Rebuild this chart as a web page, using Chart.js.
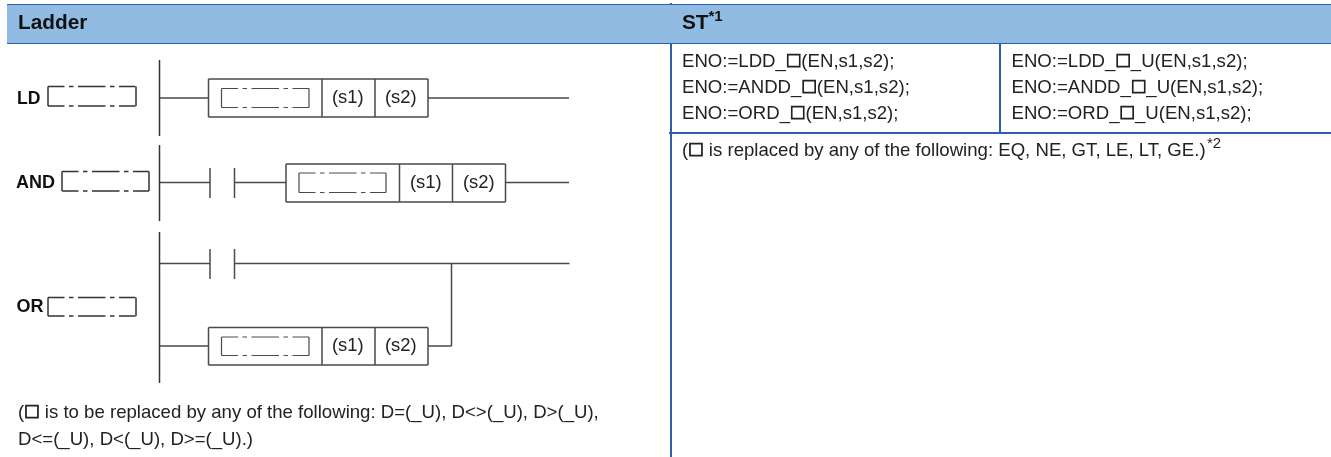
<!DOCTYPE html>
<html>
<head>
<meta charset="utf-8">
<title>Ladder / ST</title>
<script src="https://cdn.jsdelivr.net/npm/chart.js@4/dist/chart.umd.min.js"></script>
<style>
    html, body { margin: 0; padding: 0; background: #fff; overflow: hidden; }
    canvas { display: block; }
</style>
</head>
<body>
<canvas id="diagram" width="1331" height="457"></canvas>
<script>
// every segment is x0, y0, x1, y1 in diagram units
let headerBand = [[7, 5, 1331, 5]];
let tableLines = [
    [7, 5, 1331, 5], [7, 43, 1331, 43],
    [671, 3, 671, 457], [1000, 43, 1000, 133], [669, 133, 1331, 133]
];
let railLines = [
    [159.5, 60, 159.5, 136], [159.5, 145, 159.5, 221], [159.5, 232, 159.5, 383]
];
let wireLines = [
    // LD
    [160, 98, 208, 98], [428, 98, 569, 98],
    // AND
    [160, 182.5, 210, 182.5], [234.5, 182.5, 286, 182.5], [506, 182.5, 569, 182.5],
    [210, 168, 210, 198], [234.5, 168, 234.5, 198],
    // OR
    [160, 263.5, 210, 263.5], [234.5, 263.5, 569.5, 263.5],
    [210, 249, 210, 279], [234.5, 249, 234.5, 279],
    [451.5, 263.5, 451.5, 346], [160, 346, 208, 346], [428, 346, 451.5, 346]
];
let boxLines = [
    // LD box
    [208.5, 79, 428, 79], [208.5, 117, 428, 117], [208.5, 79, 208.5, 117], [428, 79, 428, 117],
    [322, 79, 322, 117], [375, 79, 375, 117],
    // AND box
    [286, 164, 505.5, 164], [286, 202, 505.5, 202], [286, 164, 286, 202], [505.5, 164, 505.5, 202],
    [399.5, 164, 399.5, 202], [452.5, 164, 452.5, 202],
    // OR box
    [208.5, 327.5, 428, 327.5], [208.5, 365, 428, 365], [208.5, 327.5, 208.5, 365], [428, 327.5, 428, 365],
    [322, 327.5, 322, 365], [375, 327.5, 375, 365]
];
// device placeholder brackets: x0, x1, yTop, yBottom
let innerBrackets = [
    [221.5, 309, 88.5, 107.5],
    [299, 386, 173, 192.5],
    [221.5, 309, 337, 355.5]
];
let labelBrackets = [
    [48, 136, 86.5, 106],
    [62, 149, 171.5, 191],
    [48, 136, 297.5, 316]
];

let boldTexts = ["Ladder", "ST", "*1", "LD", "AND", "OR"];
let boldX = [18, 682, 708.5, 17, 16, 16.5];
let boldY = [29, 29, 21, 104, 188, 312];
let boldSizes = [20.8, 20.8, 15, 17.6, 18, 18];

let plainTexts = [
    "(s1)", "(s2)", "(s1)", "(s2)", "(s1)", "(s2)",
    "(\u25A1 is to be replaced by any of the following: D=(_U), D<>(_U), D>(_U),",
    "D<=(_U), D<(_U), D>=(_U).)",
    "ENO:=LDD_\u25A1(EN,s1,s2);", "ENO:=ANDD_\u25A1(EN,s1,s2);", "ENO:=ORD_\u25A1(EN,s1,s2);",
    "ENO:=LDD_\u25A1_U(EN,s1,s2);", "ENO:=ANDD_\u25A1_U(EN,s1,s2);", "ENO:=ORD_\u25A1_U(EN,s1,s2);",
    "(\u25A1 is replaced by any of the following: EQ, NE, GT, LE, LT, GE.)",
    "*2"
];
let plainX = [332, 385, 410, 463, 332, 385, 18, 18, 682, 682, 682, 1011.5, 1011.5, 1011.5, 682, 1207];
let plainY = [103, 103, 188, 188, 351, 351, 418, 445, 67, 93, 119, 67, 93, 119, 156, 148];
let plainSizes = [18.4, 18.4, 18.4, 18.4, 18.4, 18.4, 18.6, 18.6, 18.6, 18.6, 18.6, 18.6, 18.6, 18.6, 18.6, 15];

function toPoints(segments) {
    let points = [];
    segments.forEach((s) => {
        points.push({ x: s[0], y: s[1] }, { x: s[2], y: s[3] }, { x: null, y: null });
    });
    return points;
}

function bracketRuns(brackets) {
    let segments = [];
    brackets.forEach((b) => {
        segments.push([b[0], b[2], b[1], b[2]], [b[0], b[3], b[1], b[3]]);
    });
    return segments;
}

function bracketEnds(brackets) {
    let segments = [];
    brackets.forEach((b) => {
        segments.push([b[0], b[2], b[0], b[3]], [b[1], b[2], b[1], b[3]]);
    });
    return segments;
}

function lineSet(segments, color, width, dash) {
    return {
        data: toPoints(segments),
        showLine: true,
        spanGaps: false,
        pointRadius: 0,
        borderColor: color,
        borderWidth: width,
        borderDash: dash || [],
        clip: false
    };
}

let dashPattern = [16.5, 4.5, 4.5, 4.5, 27.5, 4.5, 4.5, 4.5, 16.5, 100];
let band = lineSet(headerBand, "rgba(0,0,0,0)", 0);
band.backgroundColor = "#91bbe3";
band.fill = { target: { value: 43 } };

// the square placeholder is heavier and wider than the text around it
function drawRuns(ctx, text, x, y, size) {
    let runs = text.split("\u25A1");
    let font = size + "px 'Liberation Sans'";
    runs.forEach((run, i) => {
        ctx.font = font;
        ctx.fillText(run, x, y);
        x += ctx.measureText(run).width;
        if (i < runs.length - 1) {
            ctx.font = "bold " + (size * 1.15) + "px 'Liberation Sans'";
            let w = ctx.measureText("\u25A1").width;
            ctx.fillText("\u25A1", x + (15.5 - w) / 2, y);
            ctx.strokeStyle = ctx.fillStyle;
            ctx.lineWidth = 0.8;
            ctx.strokeText("\u25A1", x + (15.5 - w) / 2, y);
            x += 15.5;
        }
    });
}

// texts go through the same scales as the lines
const textPlugin = {
    id: "texts",
    afterDatasetsDraw(chart) {
        let ctx = chart.ctx;
        let sx = chart.scales.x;
        let sy = chart.scales.y;
        ctx.save();
        ctx.fillStyle = "#111";
        ctx.textBaseline = "alphabetic";
        boldTexts.forEach((t, i) => {
            ctx.font = "bold " + boldSizes[i] + "px 'Liberation Sans'";
            ctx.fillText(t, sx.getPixelForValue(boldX[i]), sy.getPixelForValue(boldY[i]));
        });
        ctx.fillStyle = "#222";
        plainTexts.forEach((t, i) => {
            drawRuns(ctx, t, sx.getPixelForValue(plainX[i]), sy.getPixelForValue(plainY[i]), plainSizes[i]);
        });
        ctx.restore();
    }
};

new Chart(document.getElementById("diagram").getContext("2d"), {
    type: "scatter",
    data: {
        datasets: [
            band,
            lineSet(tableLines, "#2f5fab", 2),
            lineSet(railLines, "#333333", 1.5),
            lineSet(wireLines, "#4a4a4a", 1.5),
            lineSet(boxLines, "#4a4a4a", 1.5),
            lineSet(bracketRuns(innerBrackets), "#4a4a4a", 1.2, dashPattern),
            lineSet(bracketEnds(innerBrackets), "#4a4a4a", 1.2),
            lineSet(bracketRuns(labelBrackets), "#333333", 1.5, dashPattern),
            lineSet(bracketEnds(labelBrackets), "#333333", 1.5)
        ]
    },
    options: {
        responsive: false,
        animation: false,
        layout: { padding: 0 },
        plugins: { legend: { display: false }, tooltip: { enabled: false } },
        scales: {
            x: { type: "linear", display: false, min: 0, max: 1331 },
            y: { type: "linear", display: false, min: 0, max: 457, reverse: true }
        }
    },
    plugins: [textPlugin]
});
</script>
</body>
</html>
